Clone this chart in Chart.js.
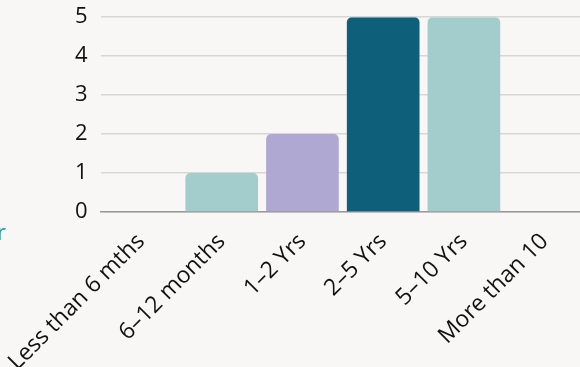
<!DOCTYPE html>
<html><head><meta charset="utf-8">
<script src="https://cdn.jsdelivr.net/npm/chart.js@4"></script>
<style>
html,body{margin:0;padding:0;background:#f8f7f5;overflow:hidden;width:580px;height:367px;position:relative;}
#wrap{position:absolute;left:0;top:-9px;width:585px;height:393px;}
#side{position:absolute;left:-3px;top:216px;font-family:"Open Sans";font-size:22px;color:#2a9aa6;}
</style></head><body>
<div id="wrap"><canvas id="c"></canvas></div>
<div id="side">r</div>
<script>
const categories = ["Less than 6 mths","6–12 months","1–2 Yrs","2–5 Yrs","5–10 Yrs","More than 10"];
const values = [0,1,2,5,5,0];
const colors = ["#a3cdcd","#a3cdcd","#afa8d2","#0d5f7a","#a3cdcd","#afa8d2"];
const yTicks = [0,1,2,3,4,5];

new Chart(document.getElementById('c'), {
  type:'bar',
  data:{labels:categories,datasets:[{data:values,backgroundColor:colors,borderRadius:{topLeft:5,topRight:5},borderSkipped:'bottom',barPercentage:0.9,categoryPercentage:1.0}]},
  options:{
    responsive:true,maintainAspectRatio:false,animation:false,
    layout:{padding:{top:0,left:16,right:0,bottom:0}},
    plugins:{legend:{display:false},tooltip:{enabled:false}},
    scales:{
      x:{grid:{display:false},border:{color:'#9a9a9a',width:1.5},
         ticks:{color:'#111',font:{family:'Open Sans',size:23},minRotation:45,maxRotation:45,padding:8}},
      y:{min:0,max:5,afterBuildTicks:(s)=>{s.ticks=yTicks.map(v=>({value:v}));},
         grid:{color:'#d9d7d4',lineWidth:1.5,drawTicks:false},border:{display:false},
         ticks:{color:'#111',font:{family:'Open Sans',size:22},padding:13}}
    }
  }
});
</script></body></html>
